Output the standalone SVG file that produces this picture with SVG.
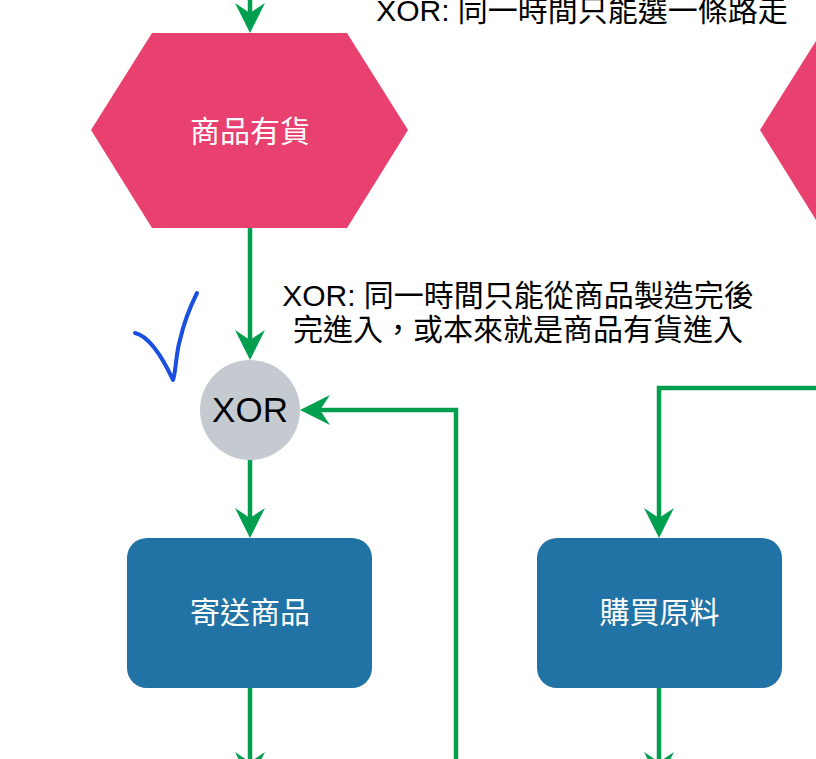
<svg xmlns="http://www.w3.org/2000/svg" width="816" height="759" viewBox="0 0 816 759">
<style>
.t{font-family:"Liberation Sans","Noto Sans CJK TC",sans-serif;}
.hex{fill:#e8406f;}
.box{fill:#2273a5;}
.wt{fill:#ffffff;font-size:30px;text-anchor:middle;}
.note{fill:#000000;font-size:30px;text-anchor:middle;}
.conn{fill:none;stroke:#009e4f;stroke-width:4.5;marker-end:url(#arr);}
</style>
<defs>
<marker id="arr" markerUnits="userSpaceOnUse" markerWidth="30" markerHeight="30" viewBox="0 0 30 30" refX="10" refY="15" orient="auto">
<path d="M10,15 L0,0 L30,15 L0,30 Z" fill="#009e4f"/>
</marker>
</defs>
<rect width="816" height="759" fill="#ffffff"/>
<g id="connectors">
<path class="conn" d="M250,0 L250,13"/>
<path class="conn" d="M250,228 L250,340"/>
<path class="conn" d="M250,460 L250,518"/>
<path class="conn" d="M456,759 L456,410 L320,410"/>
<path class="conn" d="M816,388 L659,388 L659,518"/>
<path class="conn" d="M250,688 L250,762"/>
<path class="conn" d="M659,688 L659,762"/>
</g>
<g id="hex1">
<polygon class="hex" points="152,33 347,33 408,130 347,228 152,228 91,130"/>
<text class="t wt" x="250" y="142">商品有貨</text>
</g>
<g id="hex2">
<polygon class="hex" points="821,33 1016,33 1077,130 1016,228 821,228 760,130"/>
</g>
<g id="xor">
<circle cx="250" cy="410" r="50" fill="#c5cad1"/>
<text class="t" x="250" y="422" font-size="35" text-anchor="middle" fill="#000000">XOR</text>
</g>
<g id="box1">
<rect class="box" x="127" y="538" width="245" height="150" rx="20" ry="20"/>
<text class="t wt" x="250" y="623">寄送商品</text>
</g>
<g id="box2">
<rect class="box" x="537" y="538" width="245" height="150" rx="20" ry="20"/>
<text class="t wt" x="659.5" y="623">購買原料</text>
</g>
<g id="note-top">
<text class="t note" x="582" y="21">XOR: 同一時間只能選一條路走</text>
</g>
<g id="note-mid">
<text class="t note" x="518" y="306">XOR: 同一時間只能從商品製造完後</text>
<text class="t note" x="518" y="340">完進入，或本來就是商品有貨進入</text>
</g>
<g id="checkmark">
<path d="M135,333 C148,336 160,352 173,380 C176,372 176,352 180,340 C184,322 191,305 197,293" fill="none" stroke="#1a4fdf" stroke-width="4" stroke-linecap="round" stroke-linejoin="round"/>
</g>
</svg>
